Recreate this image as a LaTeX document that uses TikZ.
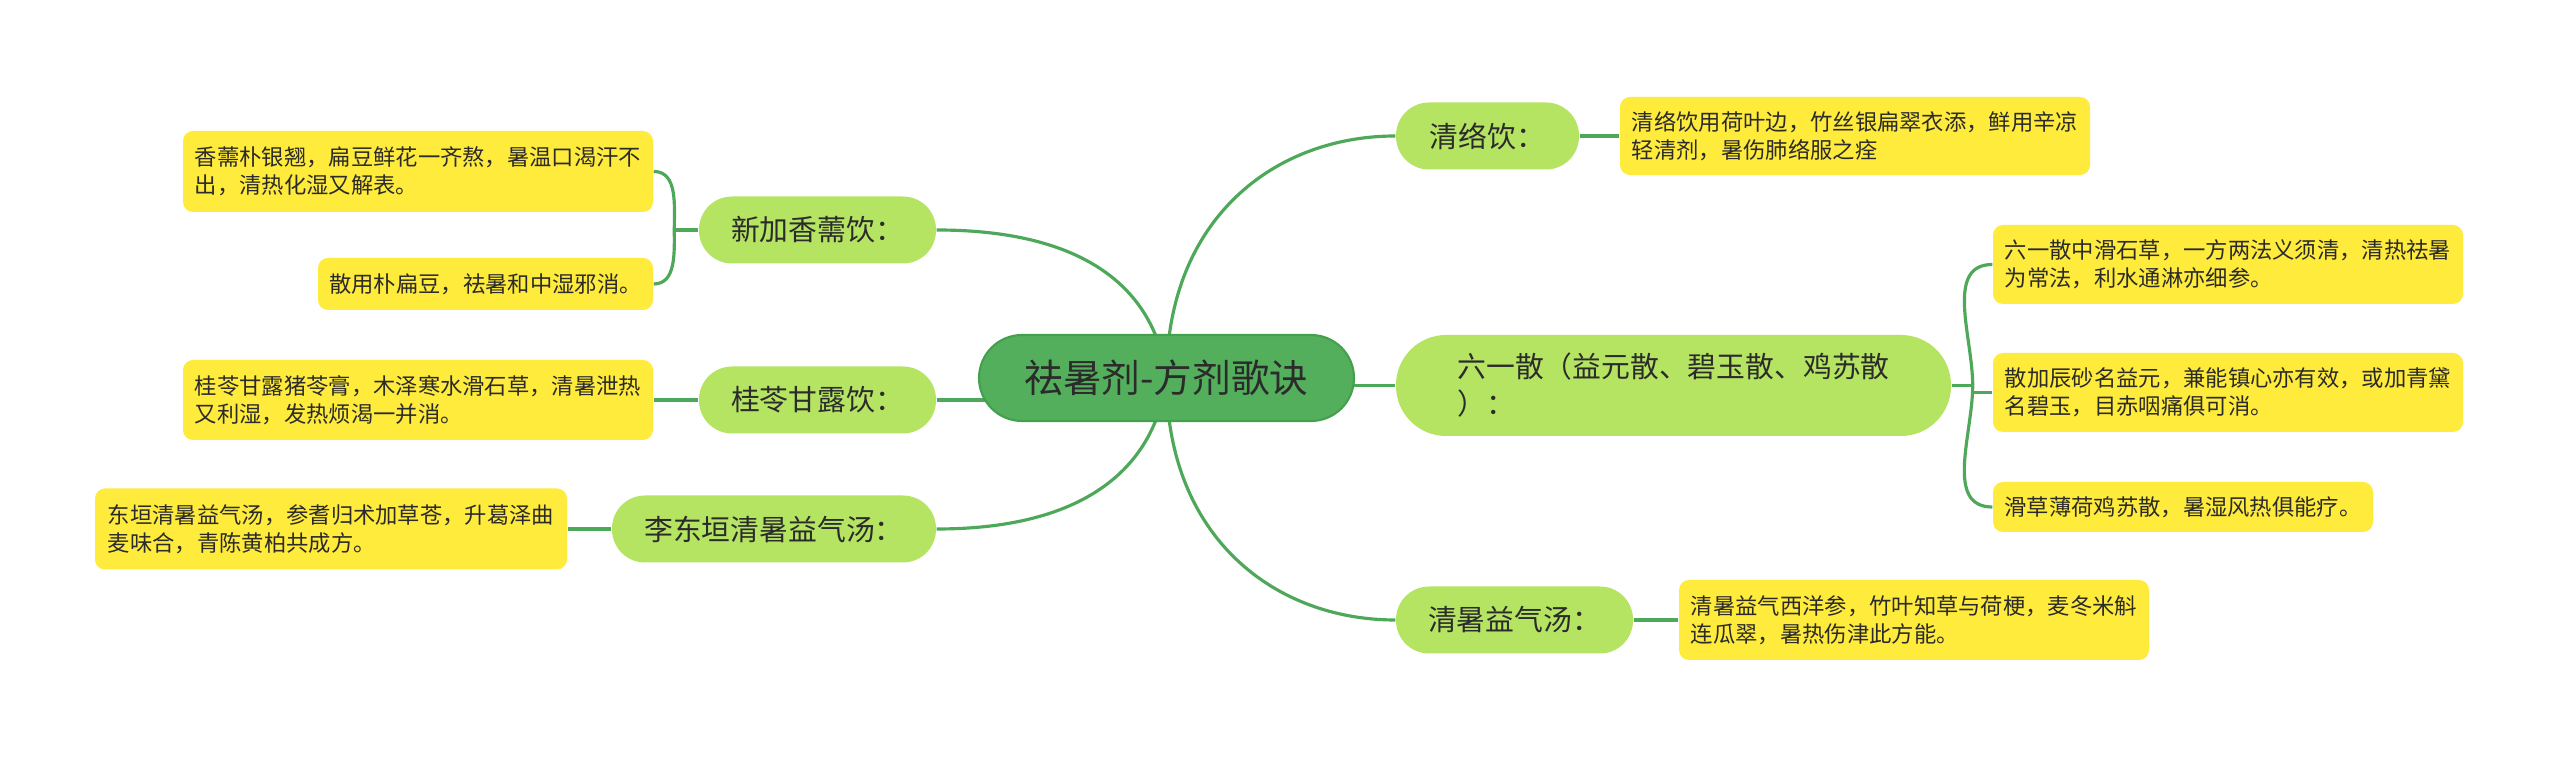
\documentclass[tikz,border=0pt]{standalone}
\usepackage{fontspec}
\setmainfont{Noto Sans CJK SC}
\usepackage{xcolor}
\usepackage{tikz}
\usetikzlibrary{backgrounds, positioning}

\definecolor{rootgreen}{HTML}{53AF5C}
\definecolor{rootline}{HTML}{43A04D}
\definecolor{subgreen}{HTML}{B5E462}
\definecolor{leafyellow}{HTML}{FFEB3B}
\definecolor{linegreen}{HTML}{4EA85A}
\definecolor{txt}{HTML}{2B2B2B}

\begin{document}
\begin{tikzpicture}[
    root/.style={fill=rootgreen, draw=rootline, line width=0.6pt, rounded corners=0.43cm,
        minimum width=3.75cm, minimum height=0.86cm, inner sep=0pt, text=txt,
        font=\fontsize{11}{13}\selectfont},
    branch/.style={fill=subgreen, rounded corners=0.33cm, minimum height=0.67cm,
        inner sep=0pt, text=txt, font=\fontsize{8.2}{10.5}\selectfont},
    leaf/.style={fill=leafyellow, rounded corners=0.1cm, minimum width=4.70cm,
        minimum height=0.80cm, inner sep=0pt, align=left, text=txt,
        font=\fontsize{6.35}{7.95}\selectfont},
    link/.style={draw=linegreen, line width=0.9pt}
]
    \useasboundingbox (0,0) rectangle (25.6,-7.57);

    % 中心主题
    \node[root] (root) at (11.665,-3.78) {祛暑剂-方剂歌诀};

    % 右侧分支
    \node[branch, minimum width=1.83cm] (qly) at (14.875,-1.36) {清络饮：};
    \node[branch, minimum width=5.55cm, minimum height=1.01cm, rounded corners=0.5cm, align=left]
        (lys) at (16.735,-3.855) {六一散（益元散、碧玉散、鸡苏散\\）：};
    \node[branch, minimum width=2.37cm] (qsyqt) at (15.145,-6.20) {清暑益气汤：};

    % 左侧分支
    \node[branch, minimum width=2.37cm] (xjxry) at (8.175,-2.30) {新加香薷饮：};
    \node[branch, minimum width=2.37cm] (gldly) at (8.175,-4.00) {桂苓甘露饮：};
    \node[branch, minimum width=3.24cm] (ldy) at (7.74,-5.29) {李东垣清暑益气汤：};

    % 歌诀
    \node[leaf, minimum height=0.78cm] (qly-a) at (18.55,-1.36)
        {清络饮用荷叶边，竹丝银扁翠衣添，鲜用辛凉\\轻清剂，暑伤肺络服之痊};
    \node[leaf, minimum height=0.79cm] (lys-a) at (22.28,-2.645)
        {六一散中滑石草，一方两法义须清，清热祛暑\\为常法，利水通淋亦细参。};
    \node[leaf, minimum height=0.79cm] (lys-b) at (22.28,-3.925)
        {散加辰砂名益元，兼能镇心亦有效，或加青黛\\名碧玉，目赤咽痛俱可消。};
    \node[leaf, minimum width=3.80cm, minimum height=0.50cm] (lys-c) at (21.83,-5.07)
        {滑草薄荷鸡苏散，暑湿风热俱能疗。};
    \node[leaf] (qsyqt-a) at (19.14,-6.20)
        {清暑益气西洋参，竹叶知草与荷梗，麦冬米斛\\连瓜翠，暑热伤津此方能。};

    \node[leaf, minimum height=0.81cm] (xjxry-a) at (4.18,-1.715)
        {香薷朴银翘，扁豆鲜花一齐熬，暑温口渴汗不\\出，清热化湿又解表。};
    \node[leaf, minimum width=3.35cm, minimum height=0.52cm] (xjxry-b) at (4.855,-2.84)
        {散用朴扁豆，祛暑和中湿邪消。};
    \node[leaf] (gldly-a) at (4.18,-4.00)
        {桂苓甘露猪苓膏，木泽寒水滑石草，清暑泄热\\又利湿，发热烦渴一并消。};
    \node[leaf, minimum width=4.72cm, minimum height=0.81cm] (ldy-a) at (3.31,-5.29)
        {东垣清暑益气汤，参耆归术加草苍，升葛泽曲\\麦味合，青陈黄柏共成方。};

    \coordinate[left=0.24cm of xjxry.west] (jl);
    \coordinate[right=0.21cm of lys.east] (jr);

    % 连线
    \begin{scope}[on background layer]
        \fill[white] (0,0) rectangle (25.6,-7.57);
        \draw[link] (root.center) .. controls +(0,1.6) and +(-1.2,0) .. (qly.west);
        \draw[link] (lys.west) -- (lys.west -| root.center);
        \draw[link] (root.center) .. controls +(0,-1.6) and +(-1.2,0) .. (qsyqt.west);
        \draw[link] (root.center) .. controls +(-0.1,0.8) and +(1.6,0) .. (xjxry.east);
        \draw[link] (gldly.east) -- (gldly.east -| root.center);
        \draw[link] (root.center) .. controls +(-0.1,-0.8) and +(1.6,0) .. (ldy.east);

        \draw[link] (qly.east) -- (qly-a.west);
        \draw[link] (lys.east) -- (jr);
        \draw[link] (jr) to[out=90, in=180] (lys-a.west);
        \draw[link] (jr) |- (lys-b.west);
        \draw[link] (jr) to[out=-90, in=180] (lys-c.west);
        \draw[link] (qsyqt.east) -- (qsyqt-a.west);

        \draw[link] (xjxry.west) -- (jl);
        \draw[link] (jl) to[out=90, in=0] (xjxry-a.east);
        \draw[link] (jl) to[out=-90, in=0] (xjxry-b.east);
        \draw[link] (gldly.west) -- (gldly-a.east);
        \draw[link] (ldy.west) -- (ldy-a.east);
    \end{scope}
\end{tikzpicture}
\end{document}
